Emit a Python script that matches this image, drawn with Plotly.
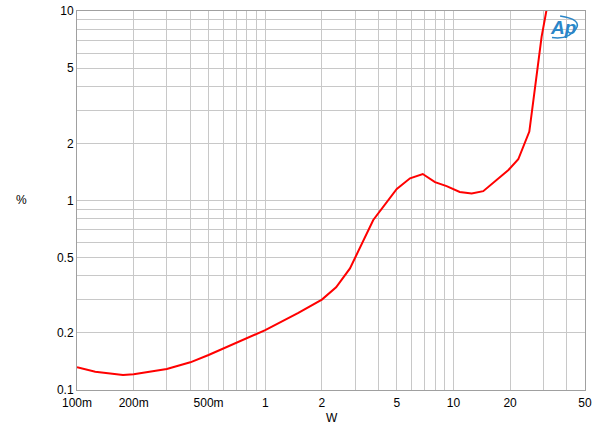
import plotly.graph_objects as go

# data
power_w = [0.1, 0.125, 0.1755, 0.2, 0.3, 0.4, 0.5, 0.7, 1.0, 1.5, 2.0, 2.38, 2.82, 3.75, 4.42, 5.0, 5.88, 6.87,
           7.98, 9.2, 10.8, 12.5, 14.4, 16.6, 19.6, 22.1, 25.3, 26.6, 28.0, 29.4, 31.5, 33.0]
thd_pct = [0.132, 0.125, 0.120, 0.121, 0.129, 0.140, 0.153, 0.178, 0.207, 0.255, 0.30, 0.348, 0.438, 0.789, 0.986,
           1.15, 1.31, 1.38, 1.25, 1.19, 1.11, 1.09, 1.12, 1.26, 1.45, 1.65, 2.31, 3.39, 5.08, 7.31, 10.6, 13.0]

x_grid = [0.1, 0.2, 0.3, 0.4, 0.5, 0.6, 0.7, 0.8, 0.9, 1, 2, 3, 4, 5, 6, 7, 8, 9, 10, 20, 30, 40, 50]
x_labels = {0.1: "100m", 0.2: "200m", 0.5: "500m", 1: "1", 2: "2", 5: "5", 10: "10", 20: "20", 50: "50"}
y_grid = [0.1, 0.2, 0.3, 0.4, 0.5, 0.6, 0.7, 0.8, 0.9, 1, 2, 3, 4, 5, 6, 7, 8, 9, 10]
y_labels = {0.1: "0.1", 0.2: "0.2", 0.5: "0.5", 1: "1", 2: "2", 5: "5", 10: "10"}

fig = go.Figure()
fig.add_trace(go.Scatter(x=power_w, y=thd_pct, mode="lines",
                         line=dict(color="#ff0000", width=2), showlegend=False))

font = dict(family="Liberation Sans, Arial, sans-serif", size=12, color="#000000")
grid_col = "#c8c8c8"

fig.update_layout(
    width=600, height=434,
    margin=dict(l=77, r=15, t=11, b=44),
    paper_bgcolor="white", plot_bgcolor="white",
    font=font,
    xaxis=dict(type="log", range=[-1, 1.69897], automargin=False,
               tickmode="array", tickvals=x_grid,
               ticktext=[x_labels.get(v, "") for v in x_grid],
               showgrid=True, gridcolor=grid_col, gridwidth=1,
               showline=True, linecolor="#a0a0a0", linewidth=1, mirror=True,
               ticks="", zeroline=False, ticklabelstandoff=2),
    yaxis=dict(type="log", range=[-1, 1], automargin=False,
               tickmode="array", tickvals=y_grid,
               ticktext=[y_labels.get(v, "") for v in y_grid],
               showgrid=True, gridcolor=grid_col, gridwidth=1,
               showline=True, linecolor="#a0a0a0", linewidth=1, mirror=True,
               ticks="", zeroline=False),
)

# axis titles
fig.add_annotation(xref="paper", yref="paper", x=(332 - 77) / 508, y=(390 - 418) / 379,
                   xanchor="center", yanchor="middle",
                   text="W", showarrow=False, font=font)
fig.add_annotation(xref="paper", yref="paper", x=(21 - 77) / 508, y=(390 - 200) / 379,
                   xanchor="center", yanchor="middle",
                   text="%", showarrow=False, font=font)

# AP logo
fig.add_annotation(xref="paper", yref="paper", x=(563 - 77) / 508, y=(390 - 27) / 379,
                   xanchor="center", yanchor="middle",
                   text="<b><i>Ap</i></b>", showarrow=False,
                   font=dict(family="Liberation Sans, Arial, sans-serif", size=19, color="#2a86c8"))
fig.add_shape(type="path", xref="paper", yref="paper",
              path="M 0.951 0.987 Q 0.995 0.978 0.982 0.952 Q 0.968 0.924 0.935 0.930",
              line=dict(color="#2a86c8", width=1.5))

fig.write_html("out.html", config={"displayModeBar": False},
               post_script="document.body.style.margin='0';")
